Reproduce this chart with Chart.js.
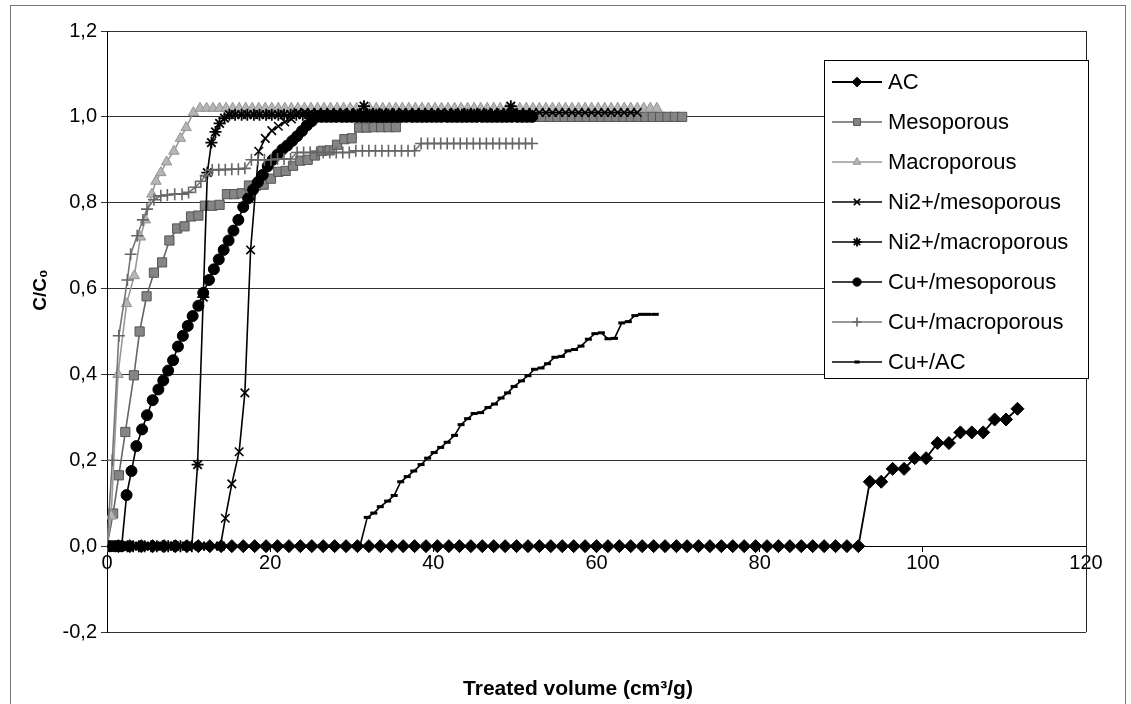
<!DOCTYPE html>
<html>
<head>
<meta charset="utf-8">
<script src="https://cdn.jsdelivr.net/npm/chart.js@4.4.0/dist/chart.umd.min.js"></script>
<style>
  html, body { margin: 0; padding: 0; background: #fff; }
  #wrap { width: 1131px; height: 704px; }
</style>
</head>
<body>
<div id="wrap"><canvas id="grafico" width="1131" height="704"></canvas></div>
<script>
// === DADOS (volume tratado em cm3/g, C/C0) ===
const acVol = [
  0.0, 1.4, 2.8, 4.2, 5.6, 7.0, 8.4, 9.8, 11.2, 12.6,
  14.0, 15.3, 16.7, 18.1, 19.5, 20.9, 22.3, 23.7, 25.1, 26.5,
  27.9, 29.3, 30.7, 32.1, 33.5, 34.9, 36.3, 37.7, 39.1, 40.5,
  41.9, 43.2, 44.6, 46.0, 47.4, 48.8, 50.2, 51.6, 53.0, 54.4,
  55.8, 57.2, 58.6, 60.0, 61.4, 62.8, 64.2, 65.6, 67.0, 68.4,
  69.8, 71.1, 72.5, 73.9, 75.3, 76.7, 78.1, 79.5, 80.9, 82.3,
  83.7, 85.1, 86.5, 87.9, 89.3, 90.7, 92.1, 93.5, 94.9, 96.3,
  97.7, 99.0, 100.4, 101.8, 103.2, 104.6, 106.0, 107.4, 108.8, 110.2,
  111.6
];
const acC = [
  0, 0, 0, 0, 0, 0, 0, 0, 0, 0,
  0, 0, 0, 0, 0, 0, 0, 0, 0, 0,
  0, 0, 0, 0, 0, 0, 0, 0, 0, 0,
  0, 0, 0, 0, 0, 0, 0, 0, 0, 0,
  0, 0, 0, 0, 0, 0, 0, 0, 0, 0,
  0, 0, 0, 0, 0, 0, 0, 0, 0, 0,
  0, 0, 0, 0, 0, 0, 0, 0.15, 0.15, 0.18,
  0.18, 0.205, 0.205, 0.24, 0.24, 0.265, 0.265, 0.265, 0.295, 0.295,
  0.32
];

const mesoVol = [
  0.0, 0.75, 1.45, 2.25, 3.3, 4.0, 4.85, 5.75, 6.75, 7.65,
  8.6, 9.5, 10.3, 11.2, 12.0, 12.9, 13.8, 14.7, 15.6, 16.5,
  17.4, 18.3, 19.2, 20.1, 21.0, 21.9, 22.8, 23.7, 24.6, 25.5,
  26.4, 27.3, 28.2, 29.1, 30.0, 30.9, 31.8, 32.7, 33.6, 34.5,
  35.4, 36.3, 37.2, 38.1, 39.0, 39.9, 40.8, 41.7, 42.6, 43.5,
  44.4, 45.3, 46.2, 47.1, 48.0, 48.9, 49.8, 50.7, 51.6, 52.5,
  53.4, 54.3, 55.2, 56.1, 57.0, 57.9, 58.8, 59.7, 60.6, 61.5,
  62.4, 63.3, 64.2, 65.1, 66.0, 66.9, 67.8, 68.7, 69.6, 70.5
];
const mesoC = [
  0, 0.076, 0.165, 0.266, 0.398, 0.5, 0.582, 0.637, 0.661, 0.712,
  0.74, 0.745, 0.768, 0.77, 0.793, 0.793, 0.795, 0.82, 0.82, 0.822,
  0.84, 0.84, 0.842, 0.856, 0.872, 0.874, 0.886, 0.898, 0.9, 0.91,
  0.921, 0.922, 0.935, 0.948, 0.95, 0.975, 0.975, 0.976, 0.976, 0.976,
  0.976, 1.0, 1.0, 1.0, 1.0, 1.0, 1.0, 1.0, 1.0, 1.0,
  1.0, 1.0, 1.0, 1.0, 1.0, 1.0, 1.0, 1.0, 1.0, 1.0,
  1.0, 1.0, 1.0, 1.0, 1.0, 1.0, 1.0, 1.0, 1.0, 1.0,
  1.0, 1.0, 1.0, 1.0, 1.0, 1.0, 1.0, 1.0, 1.0, 1.0
];

const macroVol = [
  0.0, 0.5, 1.35, 2.4, 3.35, 4.1, 4.7, 5.5, 6.0, 6.6,
  7.3, 8.2, 9.0, 9.7, 10.6, 11.4, 12.2, 13.0, 13.8, 14.6,
  15.4, 16.2, 17.0, 17.8, 18.6, 19.4, 20.2, 21.0, 21.8, 22.6,
  23.4, 24.2, 25.0, 25.8, 26.6, 27.4, 28.2, 29.0, 29.8, 30.6,
  31.4, 32.2, 33.0, 33.8, 34.6, 35.4, 36.2, 37.0, 37.8, 38.6,
  39.4, 40.2, 41.0, 41.8, 42.6, 43.4, 44.2, 45.0, 45.8, 46.6,
  47.4, 48.2, 49.0, 49.8, 50.6, 51.4, 52.2, 53.0, 53.8, 54.6,
  55.4, 56.2, 57.0, 57.8, 58.6, 59.4, 60.2, 61.0, 61.8, 62.6,
  63.4, 64.2, 65.0, 65.8, 66.6, 67.4
];
const macroC = [
  0, 0.07, 0.40, 0.565, 0.63, 0.72, 0.76, 0.82, 0.85, 0.87,
  0.895, 0.92, 0.95, 0.975, 1.01, 1.02, 1.02, 1.02, 1.02, 1.02,
  1.02, 1.02, 1.02, 1.02, 1.02, 1.02, 1.02, 1.02, 1.02, 1.02,
  1.02, 1.02, 1.02, 1.02, 1.02, 1.02, 1.02, 1.02, 1.02, 1.02,
  1.02, 1.02, 1.02, 1.02, 1.02, 1.02, 1.02, 1.02, 1.02, 1.02,
  1.02, 1.02, 1.02, 1.02, 1.02, 1.02, 1.02, 1.02, 1.02, 1.02,
  1.02, 1.02, 1.02, 1.02, 1.02, 1.02, 1.02, 1.02, 1.02, 1.02,
  1.02, 1.02, 1.02, 1.02, 1.02, 1.02, 1.02, 1.02, 1.02, 1.02,
  1.02, 1.02, 1.02, 1.02, 1.02, 1.02
];

const niMesoVol = [
  0.3, 1.1, 1.9, 2.7, 3.5, 4.3, 5.1, 5.9, 6.7, 7.5,
  8.3, 9.1, 9.9, 10.7, 11.5, 12.3, 13.1, 13.9, 14.5, 15.3,
  16.2, 16.9, 17.6, 18.6, 19.4, 20.2, 21.0, 21.8, 22.6, 23.4,
  24.2, 25.0, 25.8, 26.6, 27.4, 28.2, 29.0, 29.8, 30.6, 31.4,
  32.2, 33.0, 33.8, 34.6, 35.4, 36.2, 37.0, 37.8, 38.6, 39.4,
  40.2, 41.0, 41.8, 42.6, 43.4, 44.2, 45.0, 45.8, 46.6, 47.4,
  48.2, 49.0, 49.8, 50.6, 51.4, 52.2, 53.0, 53.8, 54.6, 55.4,
  56.2, 57.0, 57.8, 58.6, 59.4, 60.2, 61.0, 61.8, 62.6, 63.4,
  64.2, 65.0
];
const niMesoC = [
  0, 0, 0, 0, 0, 0, 0, 0, 0, 0,
  0, 0, 0, 0, 0, 0, 0, 0, 0.065, 0.145,
  0.22, 0.357, 0.69, 0.92, 0.95, 0.968, 0.978, 0.988, 0.995, 1.01,
  1.01, 1.01, 1.01, 1.01, 1.01, 1.01, 1.01, 1.01, 1.01, 1.01,
  1.01, 1.01, 1.01, 1.01, 1.01, 1.01, 1.01, 1.01, 1.01, 1.01,
  1.01, 1.01, 1.01, 1.01, 1.01, 1.01, 1.01, 1.01, 1.01, 1.01,
  1.01, 1.01, 1.01, 1.01, 1.01, 1.01, 1.01, 1.01, 1.01, 1.01,
  1.01, 1.01, 1.01, 1.01, 1.01, 1.01, 1.01, 1.01, 1.01, 1.01,
  1.01, 1.01
];

const niMacroVol = [
  0.3, 1.0, 1.8, 2.5, 3.2, 3.9, 4.6, 5.4, 6.1, 6.8,
  7.5, 8.2, 9.0, 9.7, 10.4, 11.1, 11.8, 12.3, 12.8, 13.3,
  13.8, 14.4, 15.0, 15.7, 16.5, 17.2, 18.0, 18.7, 19.5, 20.2,
  21.0, 21.7, 22.5, 23.2, 24.0, 24.7, 25.5, 26.2, 27.0, 27.7,
  28.5, 29.2, 30.0, 30.7, 31.5, 32.2, 33.0, 33.7, 34.5, 35.2,
  36.0, 36.7, 37.5, 38.2, 39.0, 39.7, 40.5, 41.2, 42.0, 42.7,
  43.5, 44.2, 45.0, 45.7, 46.5, 47.2, 48.0, 48.7, 49.5, 50.2,
  51.0, 51.7
];
const niMacroC = [
  0, 0, 0, 0, 0, 0, 0, 0, 0, 0,
  0, 0, 0, 0, 0, 0.19, 0.58, 0.87, 0.94, 0.965,
  0.985, 0.997, 1.005, 1.005, 1.005, 1.005, 1.005, 1.005, 1.005, 1.005,
  1.005, 1.005, 1.005, 1.005, 1.005, 1.005, 1.005, 1.005, 1.005, 1.005,
  1.005, 1.005, 1.005, 1.005, 1.025, 1.005, 1.005, 1.005, 1.005, 1.005,
  1.005, 1.005, 1.005, 1.005, 1.005, 1.005, 1.005, 1.005, 1.005, 1.005,
  1.005, 1.005, 1.005, 1.005, 1.005, 1.005, 1.005, 1.005, 1.025, 1.005,
  1.005, 1.005
];

const cuMesoVol = [
  0.0, 0.6, 1.2, 1.8, 2.4, 3.0, 3.6, 4.3, 4.9, 5.6,
  6.3, 6.9, 7.5, 8.1, 8.7, 9.3, 9.9, 10.5, 11.2, 11.8,
  12.5, 13.1, 13.7, 14.3, 14.9, 15.5, 16.1, 16.7, 17.3, 17.9,
  18.5, 19.1, 19.7, 20.3, 20.9, 21.5, 22.1, 22.7, 23.3, 23.9,
  24.5, 25.1, 25.7, 26.3, 26.9, 27.5, 28.1, 28.8, 29.4, 30.0,
  30.6, 31.2, 31.8, 32.4, 33.1, 33.7, 34.3, 34.9, 35.5, 36.1,
  36.7, 37.4, 38.0, 38.6, 39.2, 39.8, 40.4, 41.0, 41.7, 42.3,
  42.9, 43.5, 44.1, 44.7, 45.3, 46.0, 46.6, 47.2, 47.8, 48.4,
  49.0, 49.6, 50.3, 50.9, 51.5, 52.1
];
const cuMesoC = [
  0, 0, 0, 0, 0.119, 0.175, 0.233, 0.272, 0.305, 0.34,
  0.365, 0.386, 0.409, 0.433, 0.465, 0.49, 0.513, 0.536, 0.56, 0.59,
  0.62, 0.645, 0.668, 0.69, 0.712, 0.735, 0.76, 0.79, 0.81, 0.83,
  0.848, 0.865, 0.885, 0.9, 0.912, 0.924, 0.933, 0.944, 0.955, 0.967,
  0.98, 0.99, 1.0, 1.0, 1.0, 1.0, 1.0, 1.0, 1.0, 1.0,
  1.0, 1.0, 1.0, 1.0, 1.0, 1.0, 1.0, 1.0, 1.0, 1.0,
  1.0, 1.0, 1.0, 1.0, 1.0, 1.0, 1.0, 1.0, 1.0, 1.0,
  1.0, 1.0, 1.0, 1.0, 1.0, 1.0, 1.0, 1.0, 1.0, 1.0,
  1.0, 1.0, 1.0, 1.0, 1.0, 1.0
];

const cuMacroVol = [
  0.0, 0.65, 1.45, 2.5, 2.9, 3.7, 4.4, 4.9, 5.75, 6.6,
  7.4, 8.3, 9.2, 10.0, 10.85, 11.5, 12.1, 12.9, 13.7, 14.5,
  15.3, 16.1, 16.9, 17.7, 18.5, 19.3, 20.1, 20.9, 21.7, 22.5,
  23.3, 24.1, 24.9, 25.7, 26.5, 27.3, 28.1, 28.9, 29.7, 30.5,
  31.3, 32.1, 32.9, 33.7, 34.5, 35.3, 36.1, 36.9, 37.7, 38.5,
  39.3, 40.1, 40.9, 41.7, 42.5, 43.3, 44.1, 44.9, 45.7, 46.5,
  47.3, 48.1, 48.9, 49.7, 50.5, 51.3, 52.1
];
const cuMacroC = [
  0, 0.2, 0.49, 0.62, 0.68, 0.723, 0.76, 0.785, 0.807, 0.816,
  0.818, 0.82, 0.82, 0.824, 0.836, 0.85, 0.863, 0.876, 0.877, 0.877,
  0.878, 0.878, 0.88, 0.9, 0.9, 0.9, 0.9, 0.902, 0.902, 0.902,
  0.917, 0.917, 0.917, 0.917, 0.917, 0.917, 0.917, 0.917, 0.917, 0.921,
  0.921, 0.921, 0.921, 0.921, 0.921, 0.921, 0.921, 0.921, 0.921, 0.938,
  0.938, 0.938, 0.938, 0.938, 0.938, 0.938, 0.938, 0.938, 0.938, 0.938,
  0.938, 0.938, 0.938, 0.938, 0.938, 0.938, 0.938
];

const cuAcVol = [
  0.4, 1.2, 2.0, 2.9, 3.7, 4.5, 5.3, 6.1, 7.0, 7.8,
  8.6, 9.4, 10.2, 11.1, 11.9, 12.7, 13.5, 14.3, 15.2, 16.0,
  16.8, 17.6, 18.4, 19.3, 20.1, 20.9, 21.7, 22.5, 23.4, 24.2,
  25.0, 25.8, 26.6, 27.5, 28.3, 29.1, 29.9, 31.0, 31.9, 32.7,
  33.5, 34.4, 35.2, 36.0, 36.8, 37.6, 38.5, 39.3, 40.1, 40.9,
  41.7, 42.6, 43.4, 44.2, 45.0, 45.8, 46.7, 47.5, 48.3, 49.1,
  49.9, 50.8, 51.6, 52.4, 53.2, 54.0, 54.9, 55.7, 56.5, 57.3,
  58.1, 59.0, 59.8, 60.6, 61.4, 62.2, 63.1, 63.9, 64.7, 65.5,
  66.3, 67.2
];
const cuAcC = [
  0, 0, 0, 0, 0, 0, 0, 0, 0, 0,
  0, 0, 0, 0, 0, 0, 0, 0, 0, 0,
  0, 0, 0, 0, 0, 0, 0, 0, 0, 0,
  0, 0, 0, 0, 0, 0, 0, 0, 0.067, 0.077,
  0.092, 0.105, 0.118, 0.15, 0.162, 0.175, 0.19, 0.205, 0.218, 0.23,
  0.242, 0.258, 0.283, 0.297, 0.309, 0.311, 0.323, 0.331, 0.345, 0.357,
  0.372, 0.385, 0.397, 0.412, 0.415, 0.425, 0.44, 0.442, 0.455, 0.458,
  0.466, 0.482, 0.495, 0.497, 0.483, 0.484, 0.52, 0.523, 0.537, 0.54,
  0.54, 0.54
];

const xTicks = [0, 20, 40, 60, 80, 100, 120];
const yTicks = [-0.2, 0, 0.2, 0.4, 0.6, 0.8, 1.0, 1.2];

// junta volume e C/C0 em pontos {x, y}
function pontos(vol, c) {
  return vol.map((v, i) => ({ x: v, y: c[i] }));
}

const fonte = 'Liberation Sans, Arial, sans-serif';

// === FUNDO, MOLDURA EXTERNA E TÍTULOS DOS EIXOS ===
const moldura = {
  id: 'moldura',
  beforeDraw(chart) {
    const ctx = chart.ctx;
    ctx.save();
    ctx.fillStyle = '#fff';
    ctx.fillRect(0, 0, chart.width, chart.height);
    ctx.strokeStyle = '#777';
    ctx.lineWidth = 1;
    ctx.strokeRect(10.5, 5.5, 1115, 720);

    ctx.fillStyle = '#000';
    ctx.textAlign = 'center';
    ctx.textBaseline = 'middle';

    // título do eixo X (fica no fundo, não junto ao eixo em y = 0)
    ctx.font = 'bold 21px ' + fonte;
    ctx.fillText('Treated volume (cm³/g)', 578, 689);

    // título do eixo Y, rodado
    ctx.translate(41, 290);
    ctx.rotate(-Math.PI / 2);
    ctx.font = 'bold 19px ' + fonte;
    ctx.fillText('C/C₀', 0, 0);
    ctx.restore();
  },
  beforeDatasetsDraw(chart) {
    // borda direita da área do gráfico
    const ctx = chart.ctx;
    const a = chart.chartArea;
    ctx.save();
    ctx.strokeStyle = '#222';
    ctx.lineWidth = 1;
    ctx.beginPath();
    ctx.moveTo(Math.round(a.right) + 0.5, a.top);
    ctx.lineTo(Math.round(a.right) + 0.5, a.bottom);
    ctx.stroke();
    ctx.restore();
  }
};

// === LEGENDA DENTRO DA ÁREA DO GRÁFICO ===
const caixaLegenda = {
  id: 'caixaLegenda',
  afterDatasetsDraw(chart) {
    const ctx = chart.ctx;
    const a = chart.chartArea;
    const x0 = Math.round(a.right) - 262, y0 = Math.round(a.top) + 29;
    const w = 264, h = 318;
    ctx.save();
    ctx.fillStyle = '#fff';
    ctx.fillRect(x0, y0, w, h);
    ctx.strokeStyle = '#000';
    ctx.lineWidth = 1;
    ctx.strokeRect(x0 + 0.5, y0 + 0.5, w, h);

    chart.data.datasets.forEach((ds, i) => {
      const y = y0 + 22 + i * 40;
      ctx.strokeStyle = ds.borderColor;
      ctx.lineWidth = ds.borderWidth;
      ctx.beginPath();
      ctx.moveTo(x0 + 8, y);
      ctx.lineTo(x0 + 58, y);
      ctx.stroke();

      ctx.fillStyle = ds.pointBackgroundColor;
      ctx.strokeStyle = ds.pointBorderColor;
      ctx.lineWidth = ds.pointBorderWidth;
      Chart.helpers.drawPoint(ctx, {
        pointStyle: ds.pointStyle,
        radius: ds.pointRadius * 0.75,
        rotation: 0,
        borderWidth: ds.pointBorderWidth
      }, x0 + 33, y);

      ctx.fillStyle = '#000';
      ctx.font = '22px ' + fonte;
      ctx.textAlign = 'left';
      ctx.textBaseline = 'middle';
      ctx.fillText(ds.label, x0 + 64, y + 1);
    });
    ctx.restore();
  }
};

// estilo comum de cada série
function serie(label, vol, c, estilo) {
  return Object.assign({
    label: label,
    data: pontos(vol, c),
    showLine: true,
    tension: 0,
    fill: false,
    borderWidth: 1.6,
    pointBorderWidth: 1,
    pointHoverRadius: 0
  }, estilo);
}

const series = [
  serie('AC', acVol, acC, {
    borderColor: '#000', pointStyle: 'rectRot', pointRadius: 6.5,
    pointBackgroundColor: '#000', pointBorderColor: '#000', borderWidth: 1.8
  }),
  serie('Mesoporous', mesoVol, mesoC, {
    borderColor: '#666', pointStyle: 'rect', pointRadius: 6.5,
    pointBackgroundColor: '#858585', pointBorderColor: '#555'
  }),
  serie('Macroporous', macroVol, macroC, {
    borderColor: '#999', pointStyle: 'triangle', pointRadius: 6,
    pointBackgroundColor: '#b5b5b5', pointBorderColor: '#959595'
  }),
  serie('Ni2+/mesoporous', niMesoVol, niMesoC, {
    borderColor: '#000', pointStyle: 'crossRot', pointRadius: 6,
    pointBackgroundColor: '#000', pointBorderColor: '#000', pointBorderWidth: 1.6
  }),
  serie('Ni2+/macroporous', niMacroVol, niMacroC, {
    borderColor: '#000', pointStyle: 'star', pointRadius: 6,
    pointBackgroundColor: '#000', pointBorderColor: '#000', pointBorderWidth: 1.8
  }),
  serie('Cu+/mesoporous', cuMesoVol, cuMesoC, {
    borderColor: '#000', pointStyle: 'circle', pointRadius: 5.5,
    pointBackgroundColor: '#000', pointBorderColor: '#000'
  }),
  serie('Cu+/macroporous', cuMacroVol, cuMacroC, {
    borderColor: '#777', pointStyle: 'cross', pointRadius: 6,
    pointBackgroundColor: '#777', pointBorderColor: '#666', pointBorderWidth: 1.6
  }),
  serie('Cu+/AC', cuAcVol, cuAcC, {
    borderColor: '#000', pointStyle: 'line', pointRadius: 3.5,
    pointBackgroundColor: '#000', pointBorderColor: '#000', pointBorderWidth: 3
  })
];
// a última série fica por cima
series.forEach((s, i) => { s.order = series.length - i; });

const virgula = v => Number(v).toFixed(1).replace('.', ',');

new Chart(document.getElementById('grafico').getContext('2d'), {
  type: 'scatter',
  data: { datasets: series },
  plugins: [moldura, caixaLegenda],
  options: {
    responsive: false,
    animation: false,
    devicePixelRatio: 1,
    layout: { padding: { left: 20, top: 31, right: 45, bottom: 72 } },
    plugins: {
      legend: { display: false },
      tooltip: { enabled: false },
      title: { display: false }
    },
    scales: {
      x: {
        type: 'linear',
        position: { y: 0 },
        min: xTicks[0],
        max: xTicks[xTicks.length - 1],
        afterBuildTicks: scale => { scale.ticks = xTicks.map(v => ({ value: v })); },
        ticks: {
          color: '#000',
          font: { family: fonte, size: 20 },
          padding: 0,
          maxRotation: 0
        },
        grid: { drawOnChartArea: false, drawTicks: true, tickLength: 5, color: '#000' },
        border: { display: true, color: '#000', width: 1 }
      },
      y: {
        type: 'linear',
        min: yTicks[0],
        max: yTicks[yTicks.length - 1],
        afterBuildTicks: scale => { scale.ticks = yTicks.map(v => ({ value: v })); },
        afterFit: scale => { scale.width = 87; },
        ticks: {
          color: '#000',
          font: { family: fonte, size: 20 },
          padding: 4,
          callback: v => virgula(v)
        },
        grid: { color: '#333', lineWidth: 1, tickLength: 6 },
        border: { display: true, color: '#000', width: 1 }
      }
    }
  }
});
</script>
</body>
</html>
